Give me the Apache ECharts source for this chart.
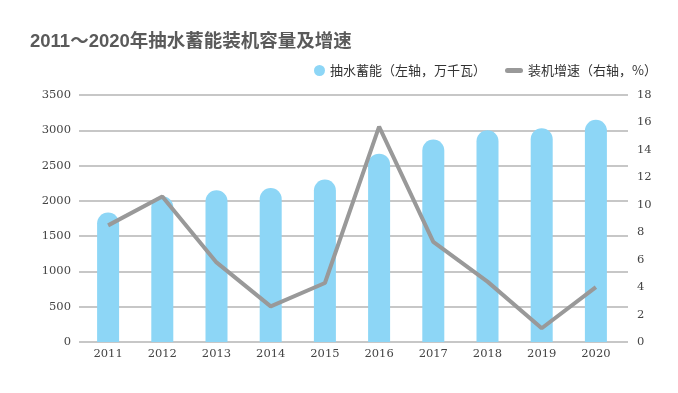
<!DOCTYPE html>
<html>
<head>
<meta charset="utf-8">
<script src="https://cdn.jsdelivr.net/npm/echarts@6/dist/echarts.min.js"></script>
<style>html,body{margin:0;padding:0;background:#fff}#c{width:678px;height:393px}</style>
</head>
<body>
<div id="c"></div>
<script>
const categories = ['2011','2012','2013','2014','2015','2016','2017','2018','2019','2020'];
const capacity = [1836, 2064, 2151, 2183, 2303, 2669, 2869, 2999, 3029, 3149];
const growth = [8.5, 10.6, 5.8, 2.6, 4.3, 15.7, 7.3, 4.4, 1.0, 4.0];
const leftTicks = {min: 0, max: 3500, interval: 500};
const rightTicks = {min: 0, max: 18, interval: 2};
const barName = '抽水蓄能（左轴，万千瓦）';
const lineName = '装机增速（右轴，%）';

const chart = echarts.init(document.getElementById('c'), null, {renderer: 'canvas'});
const axisFont = {color: '#444', fontFamily: 'DejaVu Serif', fontSize: 11.5};
chart.setOption({
  animation: false,
  title: {
    text: '2011～2020年抽水蓄能装机容量及增速',
    left: 30, top: 33, padding: 0,
    textStyle: {color: '#5a5a5a', fontSize: 18.5, fontWeight: 'bold', fontFamily: 'Liberation Sans, Noto Sans CJK SC'}
  },
  legend: [
    {
      data: [{name: barName, icon: 'circle'}],
      left: 314, top: 64, padding: 0, itemWidth: 11, itemHeight: 11,
      textStyle: {color: '#333', fontSize: 13, fontFamily: 'Noto Sans CJK SC'}
    },
    {
      data: [{name: lineName, icon: 'path://M2.5,0 H15.5 A2.5,2.5 0 0 1 15.5,5 H2.5 A2.5,2.5 0 0 1 2.5,0 Z'}],
      left: 505, top: 64, padding: 0, itemWidth: 18, itemHeight: 5,
      textStyle: {color: '#333', fontSize: 13, fontFamily: 'Noto Sans CJK SC'}
    }
  ],
  grid: [
    {left: 79, right: 50, top: 95, bottom: 51},
    {left: 81, right: 55, top: 95, bottom: 51}
  ],
  xAxis: [
    {type: 'category', gridIndex: 0, data: categories, show: false},
    {type: 'category', gridIndex: 1, data: categories,
     axisLine: {show: false}, axisTick: {show: false},
     axisLabel: Object.assign({margin: 6}, axisFont)}
  ],
  yAxis: [
    {type: 'value', gridIndex: 0, position: 'left', min: leftTicks.min, max: leftTicks.max, interval: leftTicks.interval,
     axisLine: {show: false}, axisTick: {show: false},
     axisLabel: Object.assign({margin: 8, formatter: v => String(v)}, axisFont),
     splitLine: {lineStyle: {color: '#b5b5b5', width: 1.5}}},
    {type: 'value', gridIndex: 0, position: 'right', min: rightTicks.min, max: rightTicks.max, interval: rightTicks.interval,
     axisLine: {show: false}, axisTick: {show: false},
     axisLabel: Object.assign({margin: 9, formatter: v => String(v)}, axisFont),
     splitLine: {show: false}},
    {type: 'value', gridIndex: 1, min: leftTicks.min, max: leftTicks.max, show: false, splitLine: {show: false}},
    {type: 'value', gridIndex: 1, position: 'right', min: rightTicks.min, max: rightTicks.max, show: false, splitLine: {show: false}}
  ],
  series: [
    {name: barName, type: 'bar', xAxisIndex: 1, yAxisIndex: 2, data: capacity,
     barWidth: 22, itemStyle: {color: '#8dd6f6', borderRadius: [11, 11, 0, 0]}},
    {name: lineName, type: 'line', xAxisIndex: 1, yAxisIndex: 3, data: growth,
     symbol: 'none', itemStyle: {color: '#999999'},
     lineStyle: {color: '#999999', width: 4}}
  ]
});
</script>
</body>
</html>
